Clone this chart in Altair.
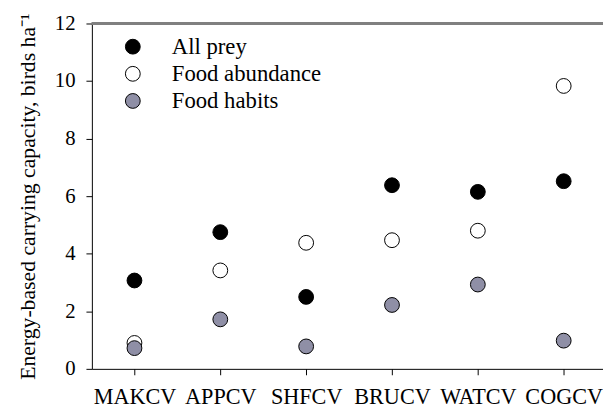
import altair as alt
import pandas as pd

sites = ["MAKCV", "APPCV", "SHFCV", "BRUCV", "WATCV", "COGCV"]
all_prey = [3.07, 4.75, 2.50, 6.38, 6.15, 6.52]
food_abundance = [0.90, 3.42, 4.38, 4.47, 4.80, 9.83]
food_habits = [0.72, 1.72, 0.78, 2.22, 2.93, 0.98]
series = ["All prey", "Food abundance", "Food habits"]
fills = ["#000000", "#ffffff", "#8f8fa6"]
y_ticks = [0, 2, 4, 6, 8, 10, 12]

rows = []
for name, vals in zip(series, [all_prey, food_abundance, food_habits]):
    for s, v in zip(sites, vals):
        rows.append({"site": s, "value": v, "series": name})
df = pd.DataFrame(rows)

FONT = "Liberation Serif"

x_enc = alt.X(
    "site:N", sort=sites,
    scale=alt.Scale(type="point", padding=0.477, align=0.52),
    axis=alt.Axis(title=None, labelAngle=0, labelFontSize=22.5, labelFont=FONT,
                  labelColor="black", labelPadding=11, tickSize=6,
                  tickColor="black", domainColor="black", grid=False),
)
y_enc = alt.Y(
    "value:Q",
    scale=alt.Scale(domain=[0, 12], nice=False, zero=True),
    axis=alt.Axis(values=y_ticks, title="Energy-based carrying capacity, birds ha⁻¹",
                  titleFont=FONT, titleFontSize=22, titleFontWeight="normal",
                  titleColor="black", titleAngle=-90, titleX=-58, titleY=175,
                  titleAlign="center", titleBaseline="alphabetic",
                  labelFontSize=21, labelFont=FONT, labelColor="black",
                  labelPadding=11, tickSize=6, tickColor="black",
                  domainColor="black", grid=False),
)

points = alt.Chart(df).mark_point(
    filled=True, size=225, stroke="black", strokeWidth=1, opacity=1
).encode(
    x=x_enc,
    y=y_enc,
    fill=alt.Fill(
        "series:N",
        scale=alt.Scale(domain=series, range=fills),
        legend=alt.Legend(
            title=None, orient="none", legendX=30, legendY=12,
            symbolType="circle", symbolSize=225, symbolStrokeColor="black",
            symbolStrokeWidth=1, symbolOpacity=1, labelFont=FONT,
            labelFontSize=23, labelColor="black", labelOffset=28,
            rowPadding=3.5, padding=0, symbolOffset=0,
        ),
    ),
)

top_line = alt.Chart(df).mark_rule(color="#808080", strokeWidth=1.5).encode(
    y=alt.datum(12)
)

chart = alt.layer(top_line, points).properties(
    width=518, height=350,
    autosize=alt.AutoSizeParams(type="none"),
    padding={"left": 85, "top": 13, "right": 0, "bottom": 39},
    background="white",
).configure_view(stroke=None)

chart.save("out.html", embed_options={"renderer": "svg", "actions": False})
